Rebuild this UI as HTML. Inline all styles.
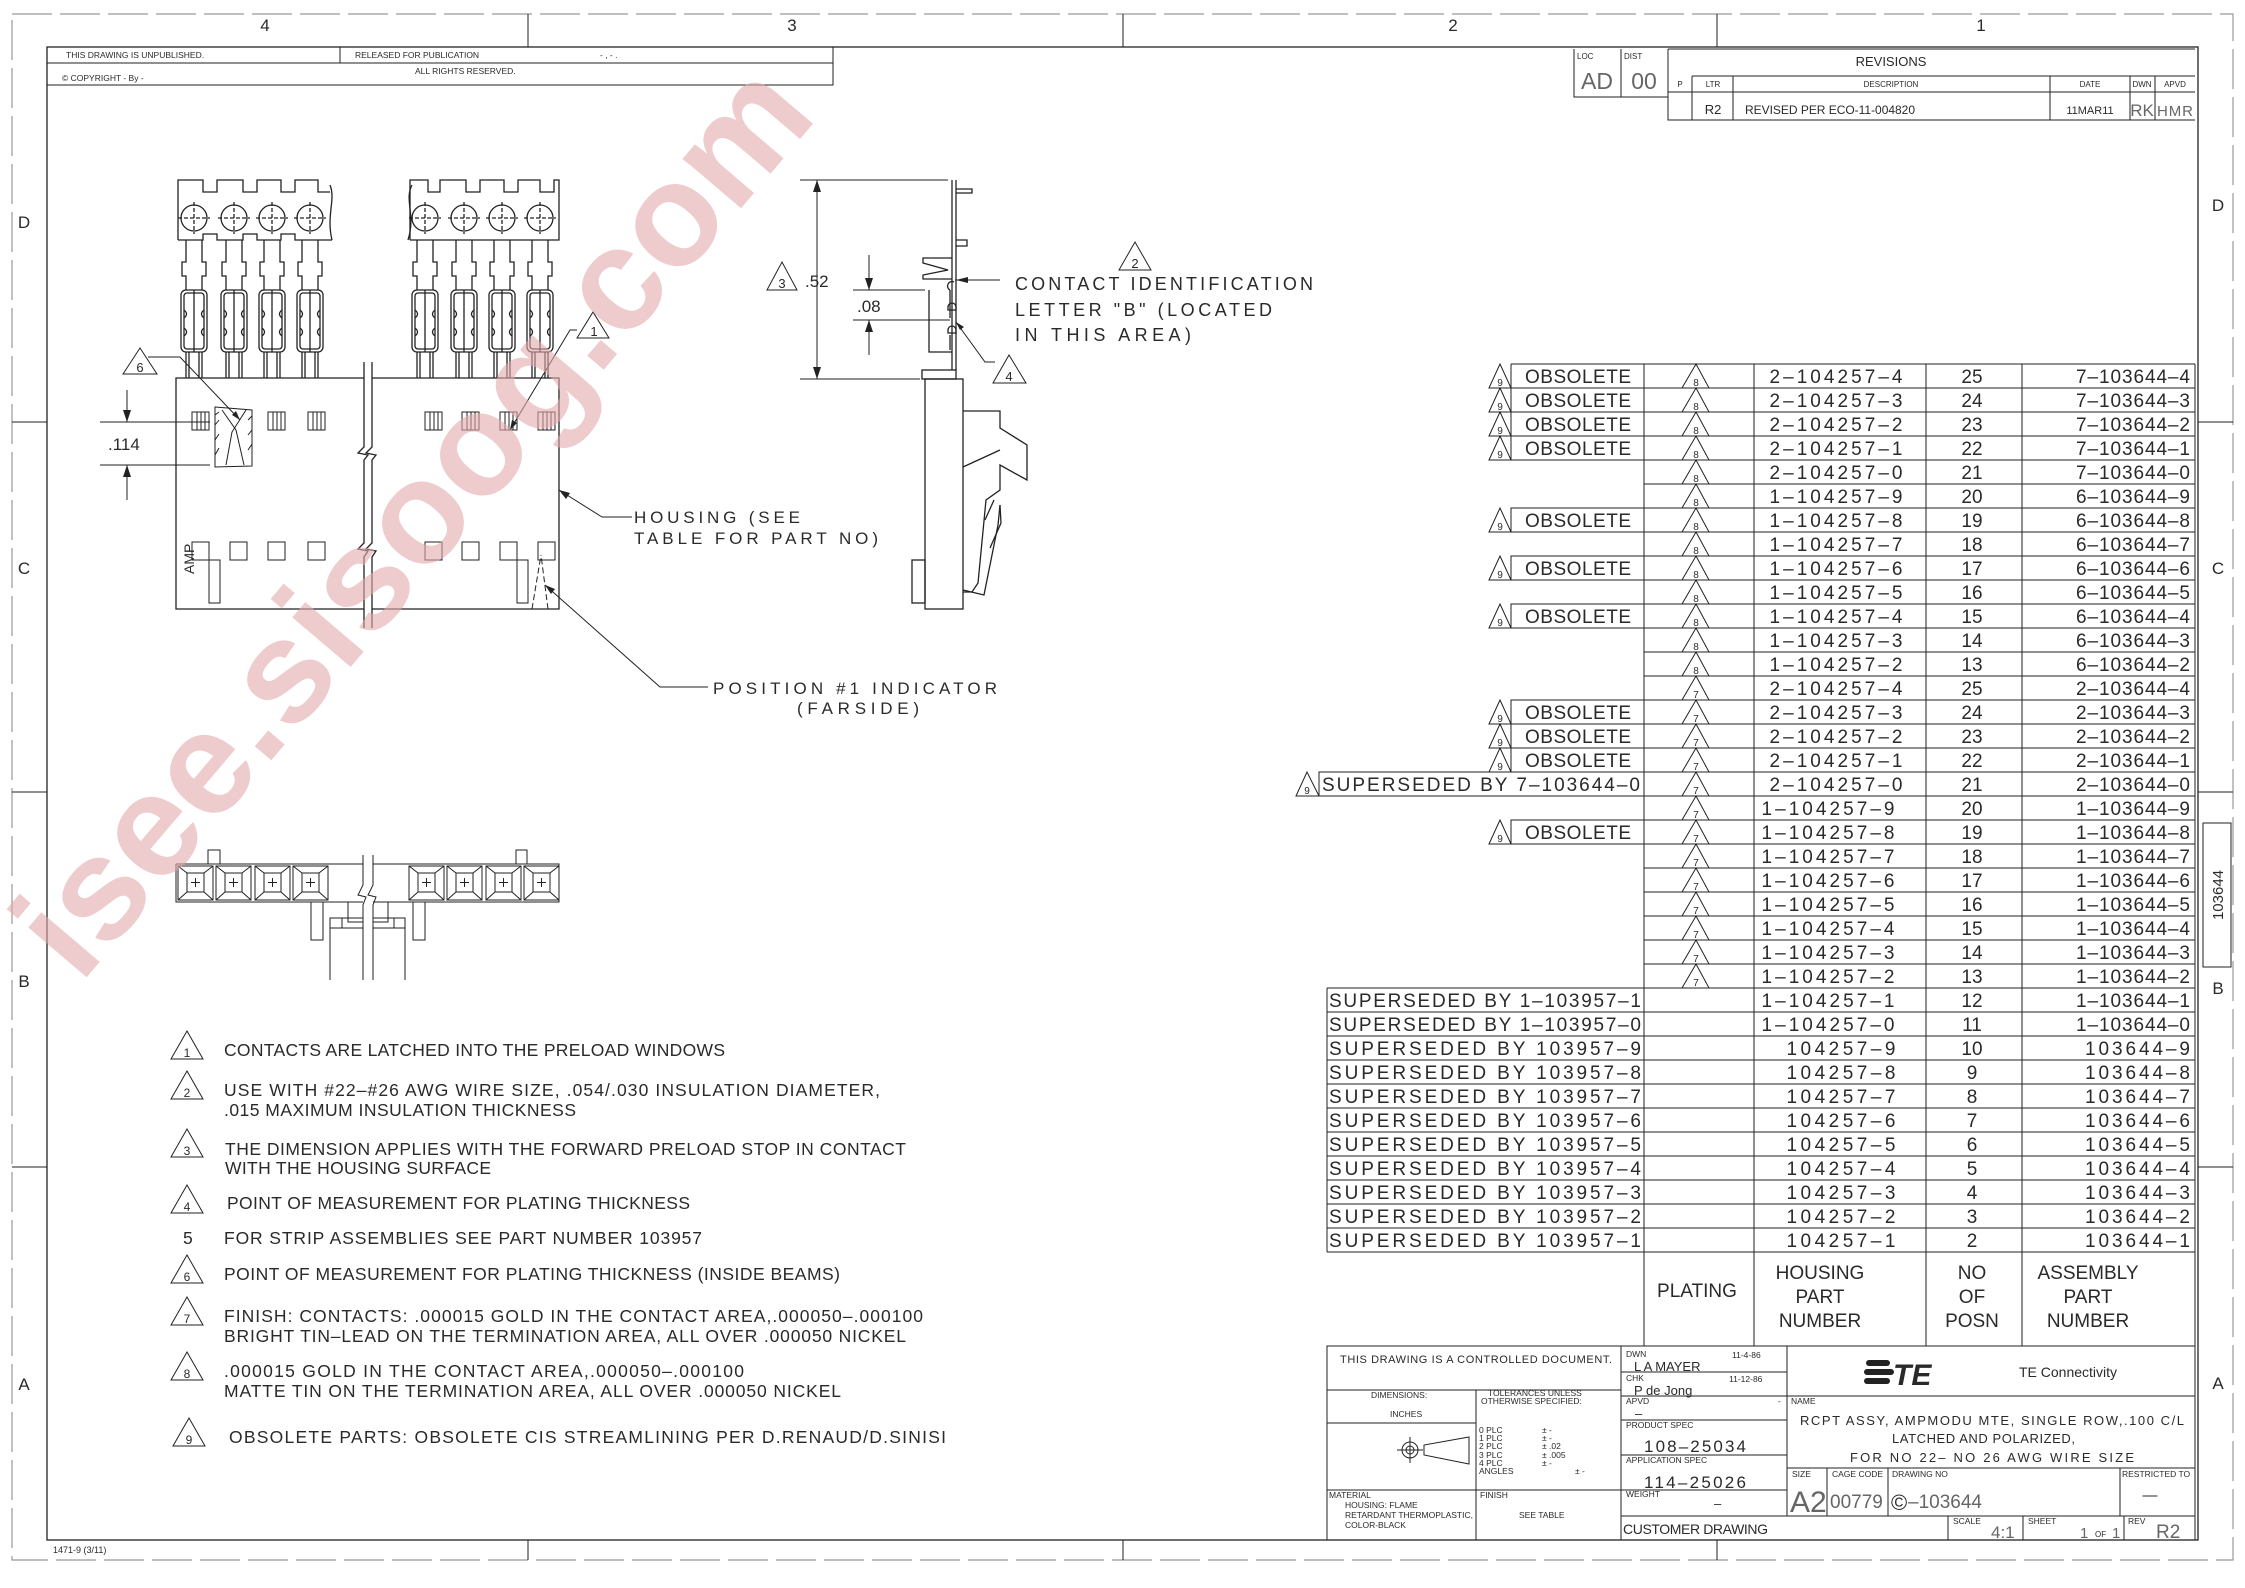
<!DOCTYPE html>
<html><head><meta charset="utf-8"><style>
html,body{margin:0;padding:0;background:#fff;}
svg{display:block;}
text{font-family:"Liberation Sans",sans-serif;fill:#2a2a2a;}
.l{stroke:#222;stroke-width:1.3;fill:none;}
.th{stroke:#222;stroke-width:1;fill:none;}
.g{stroke:#999;stroke-width:1.2;fill:none;}
.wm{fill:#e3a9ab;fill-opacity:0.6;}
.gr{fill:#666;}
</style></head><body>
<svg width="2245" height="1588" viewBox="0 0 2245 1588" xmlns="http://www.w3.org/2000/svg">
<rect width="2245" height="1588" fill="#fff"/>
<rect x="12" y="14" width="2221" height="1546" class="g" stroke-dasharray="40 8"/>
<rect x="47" y="47" width="2151" height="1493" class="l" stroke-width="1.6"/>
<g class="th">
<path d="M528 14V47M1123 14V47M1717 14V47M528 1540V1560M1123 1540V1560M1717 1540V1560M12 422H47M12 792H47M12 1167H47M2198 422H2233M2198 792H2233M2198 1167H2233"/>
</g>
<g font-size="17" text-anchor="middle">
<text x="265" y="31">4</text><text x="792" y="31">3</text><text x="1453" y="31">2</text><text x="1981" y="31">1</text>
<text x="24" y="228">D</text><text x="24" y="574">C</text><text x="24" y="987">B</text><text x="24" y="1390">A</text>
<text x="2218" y="211">D</text><text x="2218" y="574">C</text><text x="2218" y="994">B</text><text x="2218" y="1389">A</text>
</g>
<text x="53" y="1553" font-size="9">1471-9  (3/11)</text>

<g class="th"><rect x="47" y="47" width="786" height="38"/><path d="M47 63H833M340 47V63"/></g>
<g font-size="8.5">
<text x="66" y="58">THIS DRAWING IS UNPUBLISHED.</text>
<text x="355" y="58">RELEASED FOR PUBLICATION</text>
<text x="600" y="58">-  , -     .</text>
<text x="62" y="81">© COPYRIGHT   -     By   -</text>
<text x="415" y="74">ALL RIGHTS RESERVED.</text>
</g>

<g class="th">
<path d="M1574 49V97H1668M1621 49V97M1668 49V120H2195M1668 49H2195M1692 76H2195M1668 92H2195M1692 76V120M1733 76V120M2050 76V120M2130 76V120M2155 76V120"/>
</g>
<g font-size="8"><text x="1577" y="59">LOC</text><text x="1624" y="59">DIST</text>
<text x="1680" y="87" text-anchor="middle">P</text><text x="1713" y="87" text-anchor="middle">LTR</text><text x="1891" y="87" text-anchor="middle">DESCRIPTION</text><text x="2090" y="87" text-anchor="middle">DATE</text><text x="2142" y="87" text-anchor="middle">DWN</text><text x="2175" y="87" text-anchor="middle">APVD</text></g>
<text x="1597" y="89" font-size="23" text-anchor="middle" class="gr">AD</text>
<text x="1644" y="89" font-size="23" text-anchor="middle" class="gr">00</text>
<text x="1891" y="66" font-size="13" text-anchor="middle">REVISIONS</text>
<text x="1713" y="114" font-size="13" text-anchor="middle">R2</text>
<text x="1745" y="114" font-size="12" textLength="170">REVISED PER ECO-11-004820</text>
<text x="2090" y="114" font-size="11" text-anchor="middle">11MAR11</text>
<text x="2142" y="116" font-size="17" text-anchor="middle" class="gr">RK</text>
<text x="2175" y="116" font-size="15" text-anchor="middle" class="gr" textLength="36">HMR</text>

<rect x="2203" y="823" width="28" height="144" class="th"/>
<text transform="translate(2223 895) rotate(-90)" font-size="15" text-anchor="middle">103644</text>

<!-- FRONT VIEW -->
<g class="l" stroke-width="1.1">
<path d="M178 240V180H203V192H217V180H243V192H257V180H281V192H295V180H318V192H330"/>
<path d="M330 185C336 200 326 215 332 240"/>
<path d="M178 240H203V234H217V240H243V234H257V240H281V234H295V240H332"/>
<path d="M410 240V180H428V192H440V180H466V192H480V180H504V192H518V180H540V192H554V180H559V240H410"/>
<path d="M412 185C404 200 416 215 408 240"/>
</g>
<g class="l" stroke-width="1">
<g id="ct">
<circle cx="194" cy="218" r="13"/><path d="M178 218H210M194 202V234" stroke-dasharray="4 2"/>
<path d="M186 240V262H182V276H186V290M202 240V262H206V276H202V290"/>
<rect x="181" y="290" width="26" height="62" rx="5"/><rect x="184" y="293" width="20" height="56" rx="3"/>
<path d="M194 290V352M186 352V378M189 352V378M199 352V378M202 352V378"/>
<path d="M184 310Q189 314 184 318M204 310Q199 314 204 318M184 328Q189 332 184 336M204 328Q199 332 204 336"/>
</g>
<use href="#ct" x="40"/><use href="#ct" x="78"/><use href="#ct" x="116"/>
<use href="#ct" x="231"/><use href="#ct" x="270"/><use href="#ct" x="308"/><use href="#ct" x="346"/>
</g>
<g class="l">
<path d="M364 378H176V609H364M372 378H559V609H372"/>
<path d="M364 362V447L358 453L368 455L364 460V543L358 549L368 551L364 557V628"/>
<path d="M372 362V447L366 453L376 455L372 460V543L366 549L376 551L372 557V628"/>
</g>
<g class="th">
<g id="wn"><rect x="192" y="412" width="17" height="18"/><path d="M197 412V430M201 412V430M205 412V430"/></g>
<use href="#wn" x="76"/><use href="#wn" x="116"/><use href="#wn" x="233"/><use href="#wn" x="270"/><use href="#wn" x="308"/><use href="#wn" x="346"/>
<path d="M215 407L252 410V466L215 467Z"/><path d="M222 410L236 430L244 465M246 410L232 432L226 465"/>
<path d="M215 415L219 412M215 425L219 420M215 440L219 434M215 455L219 448M248 420L252 416M248 435L252 430M248 450L252 444"/>
<rect x="192" y="542" width="17" height="18"/><rect x="230" y="542" width="17" height="18"/><rect x="268" y="542" width="17" height="18"/><rect x="308" y="542" width="17" height="18"/>
<rect x="425" y="542" width="17" height="18"/><rect x="462" y="542" width="17" height="18"/><rect x="500" y="542" width="17" height="18"/><rect x="538" y="542" width="17" height="18"/>
<rect x="209" y="560" width="11" height="43"/><rect x="517" y="560" width="11" height="43"/>
<path d="M532 609L541 555M548 609L541 555" stroke-dasharray="6 3"/>
</g>
<text transform="translate(194 574) rotate(-90)" font-size="14">AMP</text>
<g class="th"><path d="M100 422H210M100 465H210M127 390V422M127 465V500"/></g>
<path d="M123 410L127 422L131 410ZM123 477L127 465L131 477Z" fill="#222"/>
<text x="108" y="450" font-size="17">.114</text>
<path d="M123 374L140 348L157 374Z" class="th"/><text x="140" y="372" font-size="13" text-anchor="middle">6</text>
<path d="M148 357H180L240 420" class="th"/><path d="M236 411L240 420L232 415Z" fill="#222"/>
<path d="M577 338L593 312L609 338Z" class="th"/><text x="594" y="336" font-size="13" text-anchor="middle">1</text>
<path d="M577 330H570L510 430" class="th"/><path d="M510 430L512 420L517 423Z" fill="#222"/>
<path d="M559 490L602 517H632" class="th"/><path d="M559 490L570 493L566 499Z" fill="#222"/>
<text x="634" y="523" font-size="17" textLength="166">HOUSING  (SEE</text>
<text x="634" y="544" font-size="17" textLength="244">TABLE  FOR  PART  NO)</text>
<path d="M545 585L660 687H708" class="th"/><path d="M545 585L555 589L551 594Z" fill="#222"/>
<text x="713" y="694" font-size="17" textLength="284">POSITION  #1  INDICATOR</text>
<text x="797" y="714" font-size="17" textLength="122">(FARSIDE)</text>

<!-- SIDE VIEW -->
<g class="l" stroke-width="1.1">
<path d="M952 180V370M956 180V370"/>
<path d="M956 189H972V193H956M956 240H967V246H956"/>
<path d="M952 258L923 258V263L948 270L923 275V279L952 279"/>
<path d="M950 290V318M950 335V350M954 282A3 3 0 0 0 950 290"/>
<path d="M929 290V352H952"/>
<path d="M948 307A4 4 0 0 1 956 307V310H948ZM948 330A4 4 0 0 1 956 330V333H948Z"/>
<rect x="922" y="370" width="34" height="9"/>
<rect x="925" y="379" width="38" height="230"/>
<path d="M963 411H1000V428L1027 445V480L1000 465V490L986 500L978 583L972 592H963"/>
<path d="M963 467L1000 450M985 520L994 500M963 590L984 595L998 525L1000 505"/>
<path d="M1000 505L1001 523L990 548"/>
<rect x="912" y="560" width="13" height="43"/>
</g>
<g class="th">
<path d="M800 180H948M800 379H920M817 180V379M853 290H925M853 320H950M869 255V290M869 320V355M955 280H1000"/>
</g>
<path d="M813 192L817 180L821 192ZM813 367L817 379L821 367ZM865 278L869 290L873 278ZM865 332L869 320L873 332ZM956 280L968 277L968 283Z" fill="#222"/>
<path d="M767 290L782 262L797 290Z" class="th"/><text x="782" y="288" font-size="13" text-anchor="middle">3</text>
<text x="805" y="287" font-size="17">.52</text>
<text x="857" y="312" font-size="17">.08</text>
<path d="M1119 270L1135 242L1151 270Z" class="th"/><text x="1135" y="268" font-size="13" text-anchor="middle">2</text>
<path d="M993 383L1009 355L1026 383Z" class="th"/><text x="1009" y="381" font-size="13" text-anchor="middle">4</text>
<path d="M956 322L985 362H995" class="th"/><path d="M956 322L964 327L960 330Z" fill="#222"/>
<text x="1015" y="290" font-size="18" textLength="298">CONTACT  IDENTIFICATION</text>
<text x="1015" y="316" font-size="18" textLength="257">LETTER  "B"  (LOCATED</text>
<text x="1015" y="341" font-size="18" textLength="176">IN  THIS  AREA)</text>

<!-- BOTTOM VIEW -->
<g class="th">
<path d="M176 864H363M373 864H559V902H373M363 902H176V864"/>
<g id="cl"><rect x="178" y="866" width="35" height="34"/><rect x="187" y="873" width="17" height="19"/><path d="M178 866L187 873M213 866L204 873M178 900L187 892M213 900L204 892M191 882.5H200M195.5 878V887"/></g>
<use href="#cl" x="38"/><use href="#cl" x="77"/><use href="#cl" x="115"/>
<use href="#cl" x="231"/><use href="#cl" x="269"/><use href="#cl" x="308"/><use href="#cl" x="346"/>
<path d="M363 855V885L358 895L366 897L363 905V980M373 855V885L368 895L376 897L373 905V980"/>
<path d="M208 864V850H220V864M516 864V850H527V864"/>
<path d="M311 902V940H323V902M413 902V940H425V902"/>
<path d="M348 902V922H363M373 922H388V902M330 980V918H363M373 918H405V980M330 928H363M373 928H405M342 918V928M394 918V928"/>
</g>

<!-- NOTES -->
<g class="th">
<path d="M171 1059L187 1031L203 1059Z"/><path d="M171 1099L187 1071L203 1099Z"/><path d="M171 1157L187 1129L203 1157Z"/><path d="M171 1213L187 1185L203 1213Z"/><path d="M171 1283L187 1255L203 1283Z"/><path d="M171 1325L187 1297L203 1325Z"/><path d="M171 1380L187 1352L203 1380Z"/><path d="M173 1446L189 1418L205 1446Z"/>
</g>
<g font-size="12" text-anchor="middle"><text x="187" y="1057">1</text><text x="187" y="1097">2</text><text x="187" y="1155">3</text><text x="187" y="1211">4</text><text x="187" y="1281">6</text><text x="187" y="1323">7</text><text x="187" y="1378">8</text><text x="189" y="1444">9</text></g>
<g font-size="17.5">
<text x="224" y="1056" textLength="501">CONTACTS  ARE  LATCHED  INTO  THE  PRELOAD  WINDOWS</text>
<text x="224" y="1096" textLength="656">USE  WITH  #22–#26  AWG  WIRE  SIZE,  .054/.030  INSULATION  DIAMETER,</text>
<text x="224" y="1116" textLength="352">.015  MAXIMUM  INSULATION  THICKNESS</text>
<text x="225" y="1155" textLength="681">THE  DIMENSION  APPLIES  WITH  THE  FORWARD  PRELOAD  STOP  IN  CONTACT</text>
<text x="225" y="1174" textLength="266">WITH  THE  HOUSING  SURFACE</text>
<text x="227" y="1209" textLength="463">POINT  OF  MEASUREMENT  FOR  PLATING  THICKNESS</text>
<text x="183" y="1244">5</text>
<text x="224" y="1244" textLength="478">FOR  STRIP  ASSEMBLIES  SEE  PART  NUMBER  103957</text>
<text x="224" y="1280" textLength="616">POINT  OF  MEASUREMENT  FOR  PLATING  THICKNESS  (INSIDE  BEAMS)</text>
<text x="224" y="1322" textLength="699">FINISH:  CONTACTS:  .000015  GOLD  IN  THE  CONTACT  AREA,.000050–.000100</text>
<text x="224" y="1342" textLength="682">BRIGHT  TIN–LEAD  ON  THE  TERMINATION  AREA,  ALL  OVER  .000050  NICKEL</text>
<text x="224" y="1377" textLength="520">.000015  GOLD  IN  THE  CONTACT  AREA,.000050–.000100</text>
<text x="224" y="1397" textLength="617">MATTE  TIN  ON  THE  TERMINATION  AREA,  ALL  OVER  .000050  NICKEL</text>
<text x="229" y="1443" textLength="717">OBSOLETE  PARTS:  OBSOLETE  CIS  STREAMLINING  PER  D.RENAUD/D.SINISI</text>
</g>

<!-- TABLE -->
<g class="th">
<path d="M1644 364H2195M1644 388H2195M1644 412H2195M1644 436H2195M1644 460H2195M1644 484H2195M1644 508H2195M1644 532H2195M1644 556H2195M1644 580H2195M1644 604H2195M1644 628H2195M1644 652H2195M1644 676H2195M1644 700H2195M1644 724H2195M1644 748H2195M1644 772H2195M1644 796H2195M1644 820H2195M1644 844H2195M1644 868H2195M1644 892H2195M1644 916H2195M1644 940H2195M1644 964H2195"/>
<path d="M1327 988H2195M1327 1012H2195M1327 1036H2195M1327 1060H2195M1327 1084H2195M1327 1108H2195M1327 1132H2195M1327 1156H2195M1327 1180H2195M1327 1204H2195M1327 1228H2195M1327 1252H2195"/>
<path d="M1644 364V1346M1754 364V1346M1926 364V1346M2022 364V1346M2195 364V1346M1327 988V1252"/>
<path d="M1511 364H1644M1511 388H1644M1511 436H1644M1511 460H1644M1511 412H1644M1511 364V460"/>
<path d="M1489 388L1500 364L1511 388ZM1489 412L1500 388L1511 412ZM1489 436L1500 412L1511 436ZM1489 460L1500 436L1511 460Z"/>
<path d="M1511 508H1644V532H1511ZM1489 532L1500 508L1511 532Z"/>
<path d="M1511 556H1644V580H1511ZM1489 580L1500 556L1511 580Z"/>
<path d="M1511 604H1644V628H1511ZM1489 628L1500 604L1511 628Z"/>
<path d="M1511 700H1644V772H1511ZM1511 724H1644M1511 748H1644M1489 724L1500 700L1511 724ZM1489 748L1500 724L1511 748ZM1489 772L1500 748L1511 772Z"/>
<path d="M1319 772H1644V796H1319ZM1296 796L1307 772L1319 796Z"/>
<path d="M1511 820H1644V844H1511ZM1489 844L1500 820L1511 844Z"/>
<path d="M1682 388L1696 364L1709 388M1682 412L1696 388L1709 412M1682 436L1696 412L1709 436M1682 460L1696 436L1709 460M1682 484L1696 460L1709 484M1682 508L1696 484L1709 508M1682 532L1696 508L1709 532M1682 556L1696 532L1709 556M1682 580L1696 556L1709 580M1682 604L1696 580L1709 604M1682 628L1696 604L1709 628M1682 652L1696 628L1709 652M1682 676L1696 652L1709 676"/>
<path d="M1682 700L1696 676L1709 700M1682 724L1696 700L1709 724M1682 748L1696 724L1709 748M1682 772L1696 748L1709 772M1682 796L1696 772L1709 796M1682 820L1696 796L1709 820M1682 844L1696 820L1709 844M1682 868L1696 844L1709 868M1682 892L1696 868L1709 892M1682 916L1696 892L1709 916M1682 940L1696 916L1709 940M1682 964L1696 940L1709 964M1682 988L1696 964L1709 988"/>
</g>
<g font-size="10" text-anchor="middle">
<text x="1696" y="386">8</text><text x="1696" y="410">8</text><text x="1696" y="434">8</text><text x="1696" y="458">8</text><text x="1696" y="482">8</text><text x="1696" y="506">8</text><text x="1696" y="530">8</text><text x="1696" y="554">8</text><text x="1696" y="578">8</text><text x="1696" y="602">8</text><text x="1696" y="626">8</text><text x="1696" y="650">8</text><text x="1696" y="674">8</text>
<text x="1696" y="698">7</text><text x="1696" y="722">7</text><text x="1696" y="746">7</text><text x="1696" y="770">7</text><text x="1696" y="794">7</text><text x="1696" y="818">7</text><text x="1696" y="842">7</text><text x="1696" y="866">7</text><text x="1696" y="890">7</text><text x="1696" y="914">7</text><text x="1696" y="938">7</text><text x="1696" y="962">7</text><text x="1696" y="986">7</text>
<text x="1500" y="386">9</text><text x="1500" y="410">9</text><text x="1500" y="434">9</text><text x="1500" y="458">9</text><text x="1500" y="530">9</text><text x="1500" y="578">9</text><text x="1500" y="626">9</text><text x="1500" y="722">9</text><text x="1500" y="746">9</text><text x="1500" y="770">9</text><text x="1307" y="794">9</text><text x="1500" y="842">9</text>
</g>
<g font-size="19">
<text x="1525" y="383" textLength="106">OBSOLETE</text><text x="1525" y="407" textLength="106">OBSOLETE</text><text x="1525" y="431" textLength="106">OBSOLETE</text><text x="1525" y="455" textLength="106">OBSOLETE</text>
<text x="1525" y="527" textLength="106">OBSOLETE</text><text x="1525" y="575" textLength="106">OBSOLETE</text><text x="1525" y="623" textLength="106">OBSOLETE</text>
<text x="1525" y="719" textLength="106">OBSOLETE</text><text x="1525" y="743" textLength="106">OBSOLETE</text><text x="1525" y="767" textLength="106">OBSOLETE</text>
<text x="1322" y="791" textLength="318">SUPERSEDED  BY  7–103644–0</text>
<text x="1525" y="839" textLength="106">OBSOLETE</text>
</g>
<g font-size="19">
<text x="1329" y="1007" textLength="312">SUPERSEDED  BY  1–103957–1</text>
<text x="1329" y="1031" textLength="312">SUPERSEDED  BY  1–103957–0</text>
<text x="1329" y="1055" textLength="312">SUPERSEDED  BY      103957–9</text>
<text x="1329" y="1079" textLength="312">SUPERSEDED  BY      103957–8</text>
<text x="1329" y="1103" textLength="312">SUPERSEDED  BY      103957–7</text>
<text x="1329" y="1127" textLength="312">SUPERSEDED  BY      103957–6</text>
<text x="1329" y="1151" textLength="312">SUPERSEDED  BY      103957–5</text>
<text x="1329" y="1175" textLength="312">SUPERSEDED  BY      103957–4</text>
<text x="1329" y="1199" textLength="312">SUPERSEDED  BY      103957–3</text>
<text x="1329" y="1223" textLength="312">SUPERSEDED  BY      103957–2</text>
<text x="1329" y="1247" textLength="312">SUPERSEDED  BY      103957–1</text>
</g>
<g font-size="19" text-anchor="middle">
<text x="1836" y="383" textLength="133">2–104257–4</text><text x="1836" y="407" textLength="133">2–104257–3</text><text x="1836" y="431" textLength="133">2–104257–2</text><text x="1836" y="455" textLength="133">2–104257–1</text><text x="1836" y="479" textLength="133">2–104257–0</text>
<text x="1836" y="503" textLength="133">1–104257–9</text><text x="1836" y="527" textLength="133">1–104257–8</text><text x="1836" y="551" textLength="133">1–104257–7</text><text x="1836" y="575" textLength="133">1–104257–6</text><text x="1836" y="599" textLength="133">1–104257–5</text><text x="1836" y="623" textLength="133">1–104257–4</text><text x="1836" y="647" textLength="133">1–104257–3</text><text x="1836" y="671" textLength="133">1–104257–2</text>
<text x="1836" y="695" textLength="133">2–104257–4</text><text x="1836" y="719" textLength="133">2–104257–3</text><text x="1836" y="743" textLength="133">2–104257–2</text><text x="1836" y="767" textLength="133">2–104257–1</text><text x="1836" y="791" textLength="133">2–104257–0</text>
<text x="1828" y="815" textLength="133">1–104257–9</text><text x="1828" y="839" textLength="133">1–104257–8</text><text x="1828" y="863" textLength="133">1–104257–7</text><text x="1828" y="887" textLength="133">1–104257–6</text><text x="1828" y="911" textLength="133">1–104257–5</text><text x="1828" y="935" textLength="133">1–104257–4</text><text x="1828" y="959" textLength="133">1–104257–3</text><text x="1828" y="983" textLength="133">1–104257–2</text><text x="1828" y="1007" textLength="133">1–104257–1</text><text x="1828" y="1031" textLength="133">1–104257–0</text>
<text x="1841" y="1055" textLength="109">104257–9</text><text x="1841" y="1079" textLength="109">104257–8</text><text x="1841" y="1103" textLength="109">104257–7</text><text x="1841" y="1127" textLength="109">104257–6</text><text x="1841" y="1151" textLength="109">104257–5</text><text x="1841" y="1175" textLength="109">104257–4</text><text x="1841" y="1199" textLength="109">104257–3</text><text x="1841" y="1223" textLength="109">104257–2</text><text x="1841" y="1247" textLength="109">104257–1</text>
</g>
<g font-size="19" text-anchor="middle">
<text x="1972" y="383">25</text><text x="1972" y="407">24</text><text x="1972" y="431">23</text><text x="1972" y="455">22</text><text x="1972" y="479">21</text><text x="1972" y="503">20</text><text x="1972" y="527">19</text><text x="1972" y="551">18</text><text x="1972" y="575">17</text><text x="1972" y="599">16</text><text x="1972" y="623">15</text><text x="1972" y="647">14</text><text x="1972" y="671">13</text>
<text x="1972" y="695">25</text><text x="1972" y="719">24</text><text x="1972" y="743">23</text><text x="1972" y="767">22</text><text x="1972" y="791">21</text><text x="1972" y="815">20</text><text x="1972" y="839">19</text><text x="1972" y="863">18</text><text x="1972" y="887">17</text><text x="1972" y="911">16</text><text x="1972" y="935">15</text><text x="1972" y="959">14</text><text x="1972" y="983">13</text><text x="1972" y="1007">12</text><text x="1972" y="1031">11</text>
<text x="1972" y="1055">10</text><text x="1972" y="1079">9</text><text x="1972" y="1103">8</text><text x="1972" y="1127">7</text><text x="1972" y="1151">6</text><text x="1972" y="1175">5</text><text x="1972" y="1199">4</text><text x="1972" y="1223">3</text><text x="1972" y="1247">2</text>
</g>
<g font-size="19" text-anchor="end">
<text x="2190" y="383" textLength="114">7–103644–4</text><text x="2190" y="407" textLength="114">7–103644–3</text><text x="2190" y="431" textLength="114">7–103644–2</text><text x="2190" y="455" textLength="114">7–103644–1</text><text x="2190" y="479" textLength="114">7–103644–0</text>
<text x="2190" y="503" textLength="114">6–103644–9</text><text x="2190" y="527" textLength="114">6–103644–8</text><text x="2190" y="551" textLength="114">6–103644–7</text><text x="2190" y="575" textLength="114">6–103644–6</text><text x="2190" y="599" textLength="114">6–103644–5</text><text x="2190" y="623" textLength="114">6–103644–4</text><text x="2190" y="647" textLength="114">6–103644–3</text><text x="2190" y="671" textLength="114">6–103644–2</text>
<text x="2190" y="695" textLength="114">2–103644–4</text><text x="2190" y="719" textLength="114">2–103644–3</text><text x="2190" y="743" textLength="114">2–103644–2</text><text x="2190" y="767" textLength="114">2–103644–1</text><text x="2190" y="791" textLength="114">2–103644–0</text>
<text x="2190" y="815" textLength="114">1–103644–9</text><text x="2190" y="839" textLength="114">1–103644–8</text><text x="2190" y="863" textLength="114">1–103644–7</text><text x="2190" y="887" textLength="114">1–103644–6</text><text x="2190" y="911" textLength="114">1–103644–5</text><text x="2190" y="935" textLength="114">1–103644–4</text><text x="2190" y="959" textLength="114">1–103644–3</text><text x="2190" y="983" textLength="114">1–103644–2</text><text x="2190" y="1007" textLength="114">1–103644–1</text><text x="2190" y="1031" textLength="114">1–103644–0</text>
<text x="2190" y="1055" textLength="105">103644–9</text><text x="2190" y="1079" textLength="105">103644–8</text><text x="2190" y="1103" textLength="105">103644–7</text><text x="2190" y="1127" textLength="105">103644–6</text><text x="2190" y="1151" textLength="105">103644–5</text><text x="2190" y="1175" textLength="105">103644–4</text><text x="2190" y="1199" textLength="105">103644–3</text><text x="2190" y="1223" textLength="105">103644–2</text><text x="2190" y="1247" textLength="105">103644–1</text>
</g>
<g font-size="19" text-anchor="middle">
<text x="1697" y="1297">PLATING</text>
<text x="1820" y="1279">HOUSING</text><text x="1820" y="1303">PART</text><text x="1820" y="1327">NUMBER</text>
<text x="1972" y="1279">NO</text><text x="1972" y="1303">OF</text><text x="1972" y="1327">POSN</text>
<text x="2088" y="1279">ASSEMBLY</text><text x="2088" y="1303">PART</text><text x="2088" y="1327">NUMBER</text>
</g>

<!-- TITLE BLOCK -->
<g class="th">
<rect x="1327" y="1346" width="868" height="194"/>
<path d="M1327 1390H1621M1476 1390V1540M1327 1423H1476M1327 1490H1621M1621 1346V1540M1787 1346V1516"/>
<path d="M1621 1372H1787M1621 1396H1787M1621 1420H1787M1621 1455H1787M1621 1490H1787M1621 1516H2195"/>
<path d="M1787 1396H2195M1787 1468H2195M1827 1468V1516M1888 1468V1516M2120 1468V1516M1948 1516V1540M2023 1516V1540M2124 1516V1540"/>
<circle cx="1410" cy="1450" r="8"/><circle cx="1410" cy="1450" r="4"/><path d="M1397 1450H1423M1410 1437V1463M1424 1445V1455L1469 1464V1437Z"/>
</g>
<g font-size="11"><text x="1340" y="1363" textLength="272">THIS DRAWING IS A CONTROLLED DOCUMENT.</text></g>
<g font-size="8.5">
<text x="1371" y="1398">DIMENSIONS:</text><text x="1390" y="1417">INCHES</text>
<text x="1488" y="1396">TOLERANCES UNLESS</text><text x="1481" y="1404">OTHERWISE SPECIFIED:</text>
<text x="1479" y="1433">0 PLC</text><text x="1479" y="1441">1 PLC</text><text x="1479" y="1449">2 PLC</text><text x="1479" y="1458">3 PLC</text><text x="1479" y="1466">4 PLC</text><text x="1479" y="1474">ANGLES</text>
<text x="1542" y="1433">±  -</text><text x="1542" y="1441">±  -</text><text x="1542" y="1449">±  .02</text><text x="1542" y="1458">±  .005</text><text x="1542" y="1466">±  -</text><text x="1575" y="1474">±  -</text>
<text x="1329" y="1498">MATERIAL</text><text x="1345" y="1508">HOUSING: FLAME</text><text x="1345" y="1518">RETARDANT THERMOPLASTIC,</text><text x="1345" y="1528">COLOR-BLACK</text>
<text x="1480" y="1498">FINISH</text><text x="1519" y="1518">SEE  TABLE</text>
<text x="1626" y="1357">DWN</text><text x="1732" y="1358">11-4-86</text>
<text x="1626" y="1381">CHK</text><text x="1729" y="1382">11-12-86</text>
<text x="1626" y="1404">APVD</text><text x="1778" y="1404">-</text>
<text x="1626" y="1428">PRODUCT SPEC</text><text x="1626" y="1463">APPLICATION SPEC</text><text x="1626" y="1497">WEIGHT</text>
<text x="1791" y="1404">NAME</text><text x="1792" y="1477">SIZE</text><text x="1832" y="1477">CAGE CODE</text><text x="1892" y="1477">DRAWING NO</text><text x="2122" y="1477">RESTRICTED TO</text>
<text x="1953" y="1524">SCALE</text><text x="2028" y="1524">SHEET</text><text x="2128" y="1524">REV</text>
</g>
<g font-size="13">
<text x="1634" y="1371">L  A  MAYER</text><text x="1634" y="1395">P  de  Jong</text><text x="1635" y="1418">–</text>
<text x="1714" y="1508">–</text>
</g>
<g font-size="17">
<text x="1644" y="1452" textLength="102">108–25034</text><text x="1644" y="1488" textLength="102">114–25026</text>
</g>
<text x="1623" y="1534" font-size="14" textLength="145">CUSTOMER  DRAWING</text>
<g fill="#222"><rect x="1866" y="1360" width="24" height="6" rx="3"/><rect x="1864" y="1369" width="30" height="6" rx="3"/><rect x="1864" y="1378" width="26" height="6" rx="3"/></g>
<text x="1893" y="1385" font-size="30" font-weight="bold" font-style="italic">TE</text>
<text x="2019" y="1377" font-size="14">TE  Connectivity</text>
<g font-size="13">
<text x="1800" y="1425" textLength="384">RCPT  ASSY,  AMPMODU    MTE,  SINGLE  ROW,.100  C/L</text>
<text x="1892" y="1443" textLength="183">LATCHED  AND    POLARIZED,</text>
<text x="1850" y="1462" textLength="284">FOR    NO  22–  NO  26  AWG  WIRE  SIZE</text>
</g>
<text x="1790" y="1512" font-size="30" class="gr">A2</text>
<text x="1830" y="1508" font-size="19" class="gr">00779</text>
<text x="1891" y="1510" font-size="22">©</text>
<text x="1908" y="1508" font-size="19" class="gr">–103644</text>
<text x="2150" y="1500" font-size="15" text-anchor="middle">—</text>
<text x="1991" y="1538" font-size="17" class="gr">4:1</text>
<text x="2080" y="1538" font-size="15" class="gr">1</text><text x="2095" y="1537" font-size="8">OF</text><text x="2112" y="1538" font-size="15" class="gr">1</text>
<text x="2156" y="1538" font-size="19" class="gr">R2</text>

<!-- watermark -->
<text transform="translate(80 985) rotate(-49.6)" font-size="145" font-weight="bold" class="wm" textLength="1140" lengthAdjust="spacingAndGlyphs">isee.sisoog.com</text>
</svg>
</body></html>
